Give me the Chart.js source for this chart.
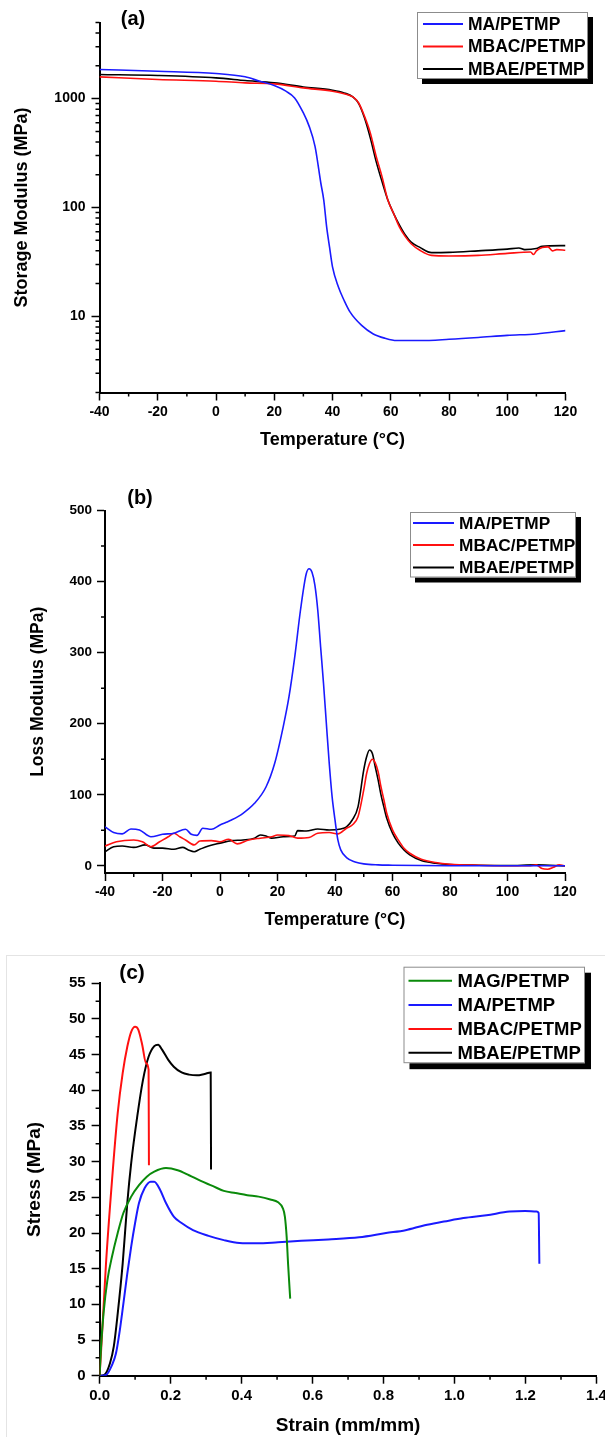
<!DOCTYPE html>
<html>
<head>
<meta charset="utf-8">
<title>DMA and tensile curves</title>
<script src="https://cdn.jsdelivr.net/npm/chart.js@4.4.1/dist/chart.umd.min.js"></script>
<style>
  html, body { margin: 0; padding: 0; background: #fff; }
  #page { position: relative; width: 605px; height: 1437px; overflow: hidden; }
  #page canvas { position: absolute; left: 0; }
  #frameC { position: absolute; left: 6px; top: 955px; width: 620px; height: 500px;
            border-left: 1px solid #e4e4e4; border-top: 1px solid #e4e4e4; }
</style>
</head>
<body>
<div id="page">
  <div id="frameC"></div>
  <canvas id="chartA" width="605" height="465" style="top:0px"></canvas>
  <canvas id="chartB" width="605" height="470" style="top:465px"></canvas>
  <canvas id="chartC" width="605" height="502" style="top:935px"></canvas>
</div>
<script>
// ---- (a) storage modulus vs temperature ----
const tempA_MA = [-40, -20, 0, 10, 15, 20, 24, 27, 30, 32, 34, 36, 37, 38, 39, 40, 42, 44, 46, 50, 54, 58, 62, 70, 80, 90, 100, 110, 120];
const storage_MA = [1850, 1785, 1700, 1585, 1445, 1318, 1170, 1015, 738, 556, 364, 167, 117, 66, 43, 28.5, 18.7, 14, 11, 8.26, 6.9, 6.3, 6.0, 6.0, 6.16, 6.4, 6.7, 6.9, 7.4];
const tempA_MBAC = [-40, -20, 0, 10, 20, 30, 40, 44, 47, 49, 51, 53, 55, 57, 59, 61, 63, 65, 67, 70, 74, 80, 90, 100, 108, 109, 110, 112, 114, 115.5, 117, 120];
const storage_MBAC = [1585, 1497, 1445, 1394, 1365, 1254, 1169, 1110, 1036, 912, 687, 482, 294, 192, 117, 88, 66, 54, 46.5, 40.5, 36.3, 35.9, 36.3, 37.9, 39, 37, 40, 43, 43.5, 40, 41, 40.5];
const tempA_MBAE = [-40, -20, 0, 10, 20, 30, 40, 44, 47, 49, 51, 53, 55, 57, 59, 61, 63, 65, 67, 70, 74, 80, 90, 100, 104, 106, 110, 112, 120];
const storage_MBAE = [1665, 1630, 1550, 1466, 1394, 1280, 1193, 1128, 1036, 900, 663, 434, 264, 173, 117, 88, 69, 56, 48, 43, 38.5, 38.7, 40, 41.5, 42.5, 41, 42, 44, 44.7];

// ---- (b) loss modulus vs temperature ----
const tempB_MA = [-40, -37, -34, -31, -28, -24, -20, -16, -12, -10, -8, -6, -3, 0, 2, 4, 8, 12, 16, 19, 22, 24, 26, 28, 30, 31, 32, 33, 34, 35, 36, 37, 38, 39, 40, 41, 42, 44, 47, 50, 55, 60, 70, 80, 120];
const loss_MA = [55, 47, 45, 52, 50.6, 41, 44.5, 46, 51.5, 44.5, 43, 53, 51.5, 57.6, 61, 64.6, 74, 88, 111, 144, 196, 238, 294, 360, 411, 418, 413, 395, 360, 308, 257, 200, 144, 97, 64.6, 36.5, 22.5, 11.7, 5.6, 2.8, 1.4, 1.0, 0.5, 0.3, 0.3];
const tempB_MBAC = [-40, -36, -30, -27, -24, -21, -18, -16, -14, -12, -9, -7, -3, 0, 3, 6, 10, 14, 18, 20, 24, 27, 31, 34, 38, 41, 44, 46, 48, 50, 51, 52, 53, 54, 55, 56, 57, 58, 60, 62, 64, 66, 70, 75, 80, 90, 100, 108, 110, 112, 114, 116, 118, 120];
const loss_MBAC = [28, 34, 36.5, 34, 27, 34, 41, 46, 41, 36.5, 29.5, 35, 35.6, 34, 37.5, 31, 36.5, 39, 41, 43.5, 42.6, 39, 40, 46, 47, 45, 53, 57.6, 69, 107, 130, 144, 150, 145, 132.5, 111, 93, 74, 50.6, 36.5, 24.8, 17.8, 9.4, 4.7, 2.3, 0.9, 0.3, 0.3, 1.4, -3.7, -4.7, -1.9, 1.4, 0];
const tempB_MBAE = [-40, -37, -34, -30, -26, -23, -20, -16, -13, -11, -9, -7, -4, 0, 4, 8, 12, 14, 16, 18, 22, 26, 27, 30, 34, 38, 42, 44, 46, 48, 50, 51, 52, 53, 54, 55, 56, 57, 58, 60, 62, 64, 66, 70, 75, 80, 90, 100, 110, 120];
const loss_MBAE = [20, 27, 28, 26, 29.5, 25, 25, 23.4, 26, 22.5, 20, 23.4, 28, 32, 35.6, 36.5, 39, 43.5, 42, 39, 41, 42, 49.6, 49, 52, 50.6, 52, 55, 64.6, 83, 135, 153.5, 163, 158, 139.5, 121, 100, 83, 67, 46, 32, 22.5, 15.5, 7.5, 3.7, 1.9, 0.9, 0.5, 1.4, 0];

// ---- (c) stress-strain ----
const strain_MAG = [0, 0.004, 0.011, 0.022, 0.035, 0.051, 0.067, 0.089, 0.111, 0.133, 0.154, 0.187, 0.22, 0.252, 0.285, 0.318, 0.35, 0.383, 0.416, 0.448, 0.481, 0.503, 0.516, 0.522, 0.527, 0.531, 0.537];
const stress_MAG = [0, 4, 8.7, 13.4, 16.7, 20, 22.8, 25.1, 26.7, 27.9, 28.6, 29.1, 28.8, 28.1, 27.3, 26.6, 25.9, 25.6, 25.3, 25.1, 24.7, 24.3, 23.5, 22.3, 19.5, 15.7, 10.8];
const strain_MA = [0, 0.018, 0.035, 0.046, 0.057, 0.067, 0.078, 0.089, 0.1, 0.111, 0.127, 0.144, 0.154, 0.171, 0.187, 0.209, 0.231, 0.263, 0.307, 0.35, 0.394, 0.443, 0.503, 0.568, 0.644, 0.731, 0.807, 0.862, 0.916, 0.97, 1.025, 1.09, 1.155, 1.199, 1.231, 1.237, 1.239];
const stress_MA = [0, 0.1, 1.5, 3.1, 6.4, 10.1, 14.3, 18.1, 21.4, 24.2, 26.3, 27.2, 27.2, 26, 24.2, 22.3, 21.4, 20.4, 19.6, 19, 18.6, 18.55, 18.7, 18.9, 19.1, 19.4, 20, 20.4, 21.1, 21.6, 22.1, 22.5, 23, 23.1, 23, 22.8, 15.7];
const strain_MBAC = [0, 0.0076, 0.018, 0.035, 0.051, 0.065, 0.078, 0.089, 0.1, 0.109, 0.12, 0.131, 0.138, 0.139];
const stress_MBAC = [0, 6.4, 15.7, 27.4, 36.8, 42.4, 46.1, 48.2, 48.9, 48.5, 46.4, 43.8, 42.9, 29.5];
const strain_MBAE = [0, 0.013, 0.029, 0.04, 0.051, 0.065, 0.078, 0.089, 0.106, 0.122, 0.138, 0.154, 0.165, 0.176, 0.193, 0.209, 0.231, 0.252, 0.274, 0.296, 0.313, 0.314];
const stress_MBAE = [0, 0.1, 1.7, 4.1, 8.7, 15.7, 24.2, 29.8, 36.3, 41.4, 44.7, 46.2, 46.4, 45.7, 44.3, 43.3, 42.5, 42.2, 42.1, 42.3, 42.5, 28.9];

// tick values
const tempTicks = [-40, -20, 0, 20, 40, 60, 80, 100, 120];
const tempMinor = [-30, -10, 10, 30, 50, 70, 90, 110];
const storageTicks = [10, 100, 1000];
const storageMinor = [2, 3, 4, 5, 6, 7, 8, 9, 20, 30, 40, 50, 60, 70, 80, 90, 200, 300, 400, 500, 600, 700, 800, 900, 2000, 3000, 4000, 5000];
const lossTicks = [0, 100, 200, 300, 400, 500];
const lossMinor = [50, 150, 250, 350, 450];
const strainTicks = [0, 0.2, 0.4, 0.6, 0.8, 1.0, 1.2, 1.4];
const strainMinor = [0.1, 0.3, 0.5, 0.7, 0.9, 1.1, 1.3];
const stressTicks = [0, 5, 10, 15, 20, 25, 30, 35, 40, 45, 50, 55];
const stressMinor = [2.5, 7.5, 12.5, 17.5, 22.5, 27.5, 32.5, 37.5, 42.5, 47.5, 52.5];

const FONT = '"Liberation Sans", Arial, Helvetica, sans-serif';
const BLUE = '#1a1aff', RED = '#ff1010', BLACK = '#000000', GREEN = '#0a8a0a';

function pts(xs, ys) { return xs.map((x, i) => ({ x: x, y: ys[i] })); }

function series(label, xs, ys, color, width) {
  return {
    label: label,
    data: pts(xs, ys),
    borderColor: color,
    backgroundColor: color,
    borderWidth: width,
    pointRadius: 0,
    fill: false,
    cubicInterpolationMode: 'monotone'
  };
}

// small minor tick marks outside the axes
const minorTicks = {
  id: 'minorTicks',
  afterDraw(chart, args, o) {
    const { ctx, chartArea, scales } = chart;
    ctx.save();
    ctx.strokeStyle = '#000';
    ctx.lineWidth = 1.5;
    ctx.beginPath();
    (o.x || []).forEach(v => {
      const px = scales.x.getPixelForValue(v);
      ctx.moveTo(px, chartArea.bottom);
      ctx.lineTo(px, chartArea.bottom + o.len);
    });
    (o.y || []).forEach(v => {
      const py = scales.y.getPixelForValue(v);
      ctx.moveTo(chartArea.left, py);
      ctx.lineTo(chartArea.left - o.len, py);
    });
    ctx.stroke();
    ctx.restore();
  }
};

// framed legend with a solid drop shadow
const boxLegend = {
  id: 'boxLegend',
  afterDraw(chart, args, o) {
    const ctx = chart.ctx;
    ctx.save();
    ctx.fillStyle = '#000';
    ctx.fillRect(o.x + o.shadow, o.y + o.shadow, o.w, o.h);
    ctx.fillStyle = '#fff';
    ctx.fillRect(o.x, o.y, o.w, o.h);
    ctx.strokeStyle = '#8c8c8c';
    ctx.lineWidth = 1;
    ctx.strokeRect(o.x + 0.5, o.y + 0.5, o.w - 1, o.h - 1);
    ctx.font = 'bold ' + o.size + 'px ' + FONT;
    ctx.textBaseline = 'middle';
    ctx.textAlign = 'left';
    chart.data.datasets.forEach((ds, i) => {
      const y = o.rows[i];
      ctx.strokeStyle = ds.borderColor;
      ctx.lineWidth = 2;
      ctx.beginPath();
      ctx.moveTo(o.lineX0, y);
      ctx.lineTo(o.lineX1, y);
      ctx.stroke();
      ctx.fillStyle = '#000';
      ctx.fillText(ds.label, o.textX, y + 1);
    });
    ctx.restore();
  }
};

// panel letter
const panelTag = {
  id: 'panelTag',
  afterDraw(chart, args, o) {
    const ctx = chart.ctx;
    ctx.save();
    ctx.font = 'bold ' + o.size + 'px ' + FONT;
    ctx.fillStyle = '#000';
    ctx.textAlign = 'center';
    ctx.textBaseline = 'middle';
    ctx.fillText(o.text, o.x, o.y);
    ctx.restore();
  }
};

function xAxis(c) {
  return {
    type: 'linear',
    min: c.min, max: c.max,
    afterBuildTicks: s => { s.ticks = c.ticks.map(v => ({ value: v })); },
    afterFit: s => { s.height = c.height; s.paddingLeft = 0; s.paddingRight = 0; },
    grid: { drawOnChartArea: false, drawTicks: true, tickLength: 8, tickWidth: 1.5, color: '#000', tickColor: '#000' },
    border: { display: true, color: '#000', width: 2 },
    ticks: {
      color: '#000', padding: c.pad, autoSkip: false, maxRotation: 0,
      font: { family: FONT, size: c.tickSize, weight: 'bold' },
      callback: c.fmt
    },
    title: {
      display: true, text: c.title, color: '#000',
      font: { family: FONT, size: c.titleSize, weight: 'bold' },
      padding: { top: 0, bottom: c.titlePad }
    }
  };
}

function yAxis(c) {
  return {
    type: c.type || 'linear',
    min: c.min, max: c.max,
    afterBuildTicks: s => { s.ticks = c.ticks.map(v => ({ value: v })); },
    afterFit: s => { s.width = c.width; s.paddingTop = 0; s.paddingBottom = 0; },
    grid: { drawOnChartArea: false, drawTicks: true, tickLength: 8, tickWidth: 1.5, color: '#000', tickColor: '#000' },
    border: { display: true, color: '#000', width: 2 },
    ticks: {
      color: '#000', padding: c.pad, autoSkip: false,
      font: { family: FONT, size: c.tickSize, weight: 'bold' },
      callback: c.fmt
    },
    title: {
      display: true, text: c.title, color: '#000',
      font: { family: FONT, size: c.titleSize, weight: 'bold' },
      padding: { top: c.titlePad, bottom: 0 }
    }
  };
}

function baseOptions(padding, scales, plugins) {
  return {
    responsive: false,
    animation: false,
    devicePixelRatio: 1,
    layout: { padding: padding },
    scales: scales,
    plugins: Object.assign({ legend: { display: false }, tooltip: { enabled: false } }, plugins)
  };
}

const asInt = v => String(v);

new Chart(document.getElementById('chartA'), {
  type: 'line',
  data: {
    datasets: [
      series('MA/PETMP', tempA_MA, storage_MA, BLUE, 1.6),
      series('MBAC/PETMP', tempA_MBAC, storage_MBAC, RED, 1.6),
      series('MBAE/PETMP', tempA_MBAE, storage_MBAE, BLACK, 1.6)
    ]
  },
  options: baseOptions(
    { top: 22.5, right: 39.5, bottom: 0, left: 0 },
    {
      x: xAxis({ min: -40, max: 120, ticks: tempTicks, height: 72.5, pad: 3, tickSize: 14, fmt: asInt,
                 title: 'Temperature (\u00B0C)', titleSize: 18, titlePad: 14 }),
      y: yAxis({ type: 'logarithmic', min: 2, max: 5000, ticks: storageTicks, width: 99.5, pad: 6, tickSize: 14, fmt: asInt,
                 title: 'Storage Modulus (MPa)', titleSize: 18, titlePad: 11.5 })
    },
    {
      minorTicks: { x: tempMinor, y: storageMinor, len: 4 },
      boxLegend: { x: 417, y: 12, w: 171, h: 67, shadow: 5, size: 17.5, lineX0: 423, lineX1: 463, textX: 468, rows: [24, 46.5, 69] },
      panelTag: { text: '(a)', x: 133, y: 19, size: 20 }
    }
  ),
  plugins: [minorTicks, boxLegend, panelTag]
});

new Chart(document.getElementById('chartB'), {
  type: 'line',
  data: {
    datasets: [
      series('MA/PETMP', tempB_MA, loss_MA, BLUE, 1.6),
      series('MBAC/PETMP', tempB_MBAC, loss_MBAC, RED, 1.6),
      series('MBAE/PETMP', tempB_MBAE, loss_MBAE, BLACK, 1.6)
    ]
  },
  options: baseOptions(
    { top: 45.5, right: 40, bottom: 0, left: 0 },
    {
      x: xAxis({ min: -40, max: 120, ticks: tempTicks, height: 62, pad: 3, tickSize: 14, fmt: asInt,
                 title: 'Temperature (\u00B0C)', titleSize: 17.5, titlePad: 4.5 }),
      y: yAxis({ min: -10, max: 500, ticks: lossTicks, width: 105, pad: 5, tickSize: 13.5, fmt: asInt,
                 title: 'Loss Modulus (MPa)', titleSize: 17.5, titlePad: 27.5 })
    },
    {
      minorTicks: { x: tempMinor, y: lossMinor, len: 4 },
      boxLegend: { x: 410, y: 47, w: 166, h: 65.5, shadow: 5, size: 17.3, lineX0: 413, lineX1: 454, textX: 459, rows: [58, 80, 102.5] },
      panelTag: { text: '(b)', x: 140, y: 33, size: 20 }
    }
  ),
  plugins: [minorTicks, boxLegend, panelTag]
});

new Chart(document.getElementById('chartC'), {
  type: 'line',
  data: {
    datasets: [
      series('MAG/PETMP', strain_MAG, stress_MAG, GREEN, 2),
      series('MA/PETMP', strain_MA, stress_MA, BLUE, 2),
      series('MBAC/PETMP', strain_MBAC, stress_MBAC, RED, 2),
      series('MBAE/PETMP', strain_MBAE, stress_MBAE, BLACK, 2)
    ]
  },
  options: baseOptions(
    { top: 48.3, right: 8.5, bottom: 0, left: 0 },
    {
      x: xAxis({ min: 0, max: 1.4, ticks: strainTicks, height: 61.3, pad: 3, tickSize: 15, fmt: v => v.toFixed(1),
                 title: 'Strain (mm/mm)', titleSize: 19, titlePad: 0 }),
      y: yAxis({ min: 0, max: 55, ticks: stressTicks, width: 99.6, pad: 6, tickSize: 15, fmt: asInt,
                 title: 'Stress (MPa)', titleSize: 19, titlePad: 23.3 })
    },
    {
      minorTicks: { x: strainMinor, y: stressMinor, len: 4 },
      boxLegend: { x: 403.5, y: 31.7, w: 181.5, h: 96.5, shadow: 6, size: 18.5, lineX0: 408.5, lineX1: 452, textX: 457.5, rows: [45.7, 70, 94, 117.7] },
      panelTag: { text: '(c)', x: 132, y: 38, size: 21 }
    }
  ),
  plugins: [minorTicks, boxLegend, panelTag]
});
</script>
</body>
</html>
